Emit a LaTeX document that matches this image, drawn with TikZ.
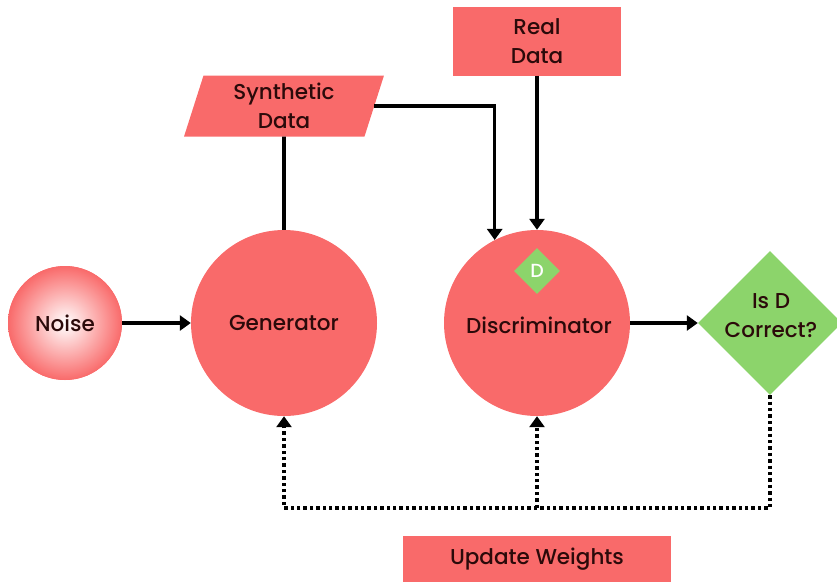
\documentclass[tikz,border=0pt]{standalone}
\usepackage{fontspec}
\setmainfont{Poppins Medium}
\usetikzlibrary{shapes.geometric,arrows.meta}
\definecolor{ganred}{HTML}{F96A6A}
\definecolor{gangreen}{HTML}{8CD46B}
\definecolor{gantext}{HTML}{2B0A0A}
\begin{document}
\begin{tikzpicture}[x=1pt,y=-1pt]

    \tikzset{
      label font/.style={font=\fontsize{21.5}{29}\selectfont,text=gantext},
      blob/.style={
        circle,
        fill=ganred,
        inner sep=0pt,
        label font,
      },
      box/.style={
        rectangle,
        fill=ganred,
        align=center,
        inner sep=0pt,
        label font,
      },
      check/.style={
        diamond,
        fill=gangreen,
        align=center,
        inner sep=0pt,
        label font,
      },
      flow/.style={line width=3.6pt,-{Triangle[length=11pt,width=15pt]}},
      feedback/.style={flow,dash pattern=on 3.4pt off 3pt},
    }
    \useasboundingbox (0,0) rectangle (837,582);
    \clip (0,0) rectangle (837,582);

    \node[blob, minimum size=114pt, inner color=white, outer color=ganred] (noise) at (65,323) {Noise};
    \node[blob, minimum size=186pt] (gen) at (284,323) {Generator};
    \node[blob, minimum size=186pt] (disc) at (537,323) {};
    \node[label font] (disctext) at (539,325) {Discriminator};
    \node[check, minimum size=46pt, text=white, font=\fontsize{19}{22}\selectfont] (dmark) at (537,271) {D};
    \node[check, minimum size=144pt] (isd) at (770,323) {};
    \node[label font, align=center] (isdtext) at (771,316) {Is D\\Correct?};

    \node[trapezium, trapezium left angle=75, trapezium right angle=105, trapezium stretches=true,
      minimum width=200pt, minimum height=61pt, fill=ganred, align=center, inner sep=0pt, label font] (synth) at (284,106) {Synthetic\\Data};
    \node[box, minimum width=168pt, minimum height=69pt] (real) at (537,41) {Real\\Data};
    \node[box, minimum width=268pt, minimum height=46pt] (upd) at (537,559) {Update Weights};

    \draw[flow] (noise) -- (gen);
    \draw[line width=3.6pt] (synth) -- (gen);
    \draw[flow] (synth.east) -| (disc.117);
    \draw[flow] (real) -- (disc);
    \draw[flow] (disc) -- (isd.west);

    \coordinate (fbl) at (gen.south |- 0,508);
    \draw[feedback] (isd.south) |- (fbl) -- (gen.south);
    \draw[feedback] (disc.south |- fbl) -- (disc.south);

\end{tikzpicture}
\end{document}
